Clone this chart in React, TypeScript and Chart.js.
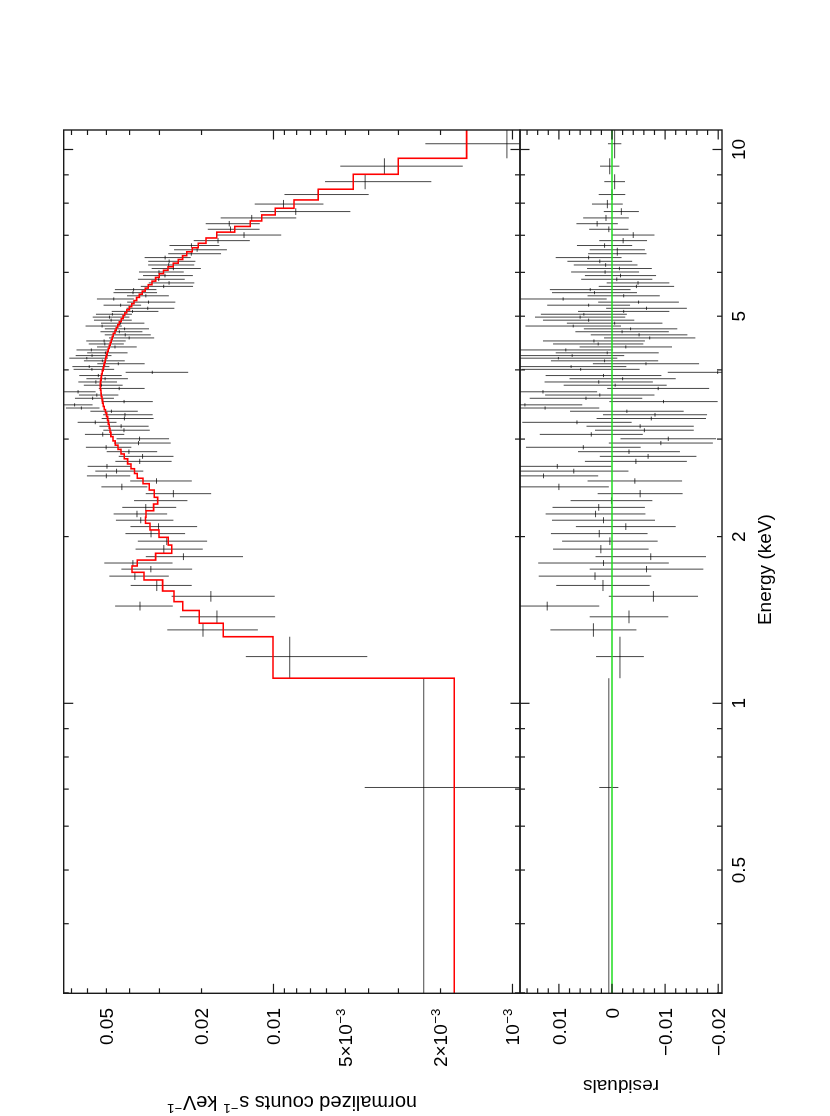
import React, { useEffect, useRef } from 'react';
import { Chart, registerables } from 'chart.js';
Chart.register(...registerables);

// ---------------- data (ascending energy) ----------------
// energy bin edges (keV), 101 bins
const binEdges = [
  0.2995, 1.110, 1.319, 1.395, 1.471, 1.526, 1.595, 1.670, 1.724, 1.770,
  1.814, 1.866, 1.931, 1.994, 2.056, 2.114, 2.168, 2.227, 2.290, 2.355,
  2.427, 2.492, 2.549, 2.600, 2.652, 2.705, 2.764, 2.820, 2.874, 2.925,
  2.977, 3.031, 3.087, 3.138, 3.191, 3.242, 3.294, 3.345, 3.391, 3.436,
  3.482, 3.530, 3.579, 3.627, 3.677, 3.729, 3.777, 3.831, 3.881, 3.933,
  3.986, 4.032, 4.078, 4.129, 4.178, 4.221, 4.269, 4.319, 4.373, 4.428,
  4.483, 4.540, 4.597, 4.658, 4.717, 4.772, 4.828, 4.887, 4.950, 5.013,
  5.069, 5.133, 5.202, 5.267, 5.336, 5.407, 5.479, 5.550, 5.620, 5.700,
  5.785, 5.875, 5.966, 6.053, 6.141, 6.234, 6.330, 6.431, 6.536, 6.646,
  6.771, 6.922, 7.092, 7.262, 7.430, 7.618, 7.833, 8.108, 8.477, 9.021,
  9.641, 10.844,
];

// folded model (normalized counts s^-1 keV^-1) per bin
const modelValues = [
  0.001751, 0.01005, 0.01622, 0.02044, 0.02398, 0.02608, 0.02908, 0.03481, 0.03909, 0.03714,
  0.03111, 0.02666, 0.02755, 0.03013, 0.03286, 0.03432, 0.03415, 0.03172, 0.03051, 0.03153,
  0.03309, 0.03516, 0.03714, 0.03815, 0.03943, 0.04078, 0.0421, 0.04346, 0.04473, 0.04591,
  0.04694, 0.0479, 0.04832, 0.04869, 0.04907, 0.04944, 0.04992, 0.05046, 0.05104, 0.05154,
  0.05188, 0.0522, 0.05255, 0.0527, 0.0529, 0.05306, 0.05285, 0.05264, 0.05245, 0.05204,
  0.0516, 0.05129, 0.05099, 0.0506, 0.05031, 0.04992, 0.04959, 0.04911, 0.04864, 0.04818,
  0.04772, 0.04726, 0.04681, 0.04605, 0.04547, 0.04482, 0.04418, 0.04337, 0.04255, 0.0419,
  0.0411, 0.04008, 0.0392, 0.03834, 0.03739, 0.0364, 0.0354, 0.03438, 0.0334, 0.03224,
  0.03111, 0.03004, 0.02883, 0.02763, 0.02625, 0.02502, 0.024, 0.02307, 0.02186, 0.02064,
  0.01916, 0.01728, 0.01453, 0.01251, 0.0112, 0.009828, 0.008209, 0.006496, 0.004635, 0.003004,
  0.001555,
];

// observed normalized counts per bin
const countValues = [
  0.002351, 0.00855, 0.01972, 0.01724, 0.03618, 0.01828, 0.03078, 0.03801, 0.03259, 0.03874,
  0.02381, 0.02876, 0.02795, 0.03253, 0.03026, 0.03592, 0.03725, 0.03422, 0.03061, 0.02623,
  0.04309, 0.03086, 0.05004, 0.04535, 0.04973, 0.03628, 0.0353, 0.04026, 0.05013, 0.03671,
  0.03634, 0.0518, 0.04222, 0.04339, 0.05567, 0.04204, 0.04182, 0.04766, 0.06364, 0.06794,
  0.04218, 0.0571, 0.05485, 0.0657, 0.0442, 0.05246, 0.05535, 0.05064, 0.05405, 0.03214,
  0.0575, 0.05899, 0.04459, 0.052, 0.06041, 0.05742, 0.05049, 0.05781, 0.04604, 0.05078,
  0.05112, 0.04016, 0.04171, 0.04415, 0.04197, 0.05212, 0.04368, 0.04777, 0.04855, 0.0472,
  0.0389, 0.03358, 0.0436, 0.03334, 0.04659, 0.0342, 0.0387, 0.03848, 0.0288, 0.02734,
  0.03021, 0.02844, 0.03013, 0.02623, 0.02745, 0.02732, 0.0284, 0.02207, 0.02086, 0.02204,
  0.01706, 0.01328, 0.01513, 0.01531, 0.01233, 0.008068, 0.009079, 0.006496, 0.004135, 0.003434,
  0.001055,
];

// 1-sigma errors on counts (same in residual panel)
const countErrors = [
  0.0018, 0.0045, 0.0081, 0.0074, 0.0098, 0.0084, 0.0088, 0.0106, 0.0107, 0.0123,
  0.0104, 0.009, 0.009, 0.0091, 0.0094, 0.0097, 0.0094, 0.0087, 0.0077, 0.008,
  0.0094, 0.0089, 0.0103, 0.0103, 0.0102, 0.0096, 0.0091, 0.0096, 0.0108, 0.0098,
  0.009, 0.0097, 0.0093, 0.0101, 0.0103, 0.0103, 0.0098, 0.0107, 0.0102, 0.0108,
  0.0102, 0.0106, 0.0103, 0.0102, 0.0096, 0.0097, 0.0102, 0.01, 0.0109, 0.0094,
  0.0111, 0.0104, 0.01, 0.0101, 0.0111, 0.0098, 0.0097, 0.0089, 0.0087, 0.0085,
  0.0096, 0.0086, 0.0091, 0.0088, 0.0088, 0.009, 0.009, 0.0086, 0.0085, 0.0081,
  0.0086, 0.0076, 0.0078, 0.0076, 0.0082, 0.0068, 0.008, 0.0076, 0.0071, 0.0059,
  0.0067, 0.0067, 0.0064, 0.0061, 0.006, 0.0061, 0.0062, 0.0055, 0.0052, 0.0052,
  0.0045, 0.004, 0.0037, 0.0039, 0.0043, 0.0033, 0.0029, 0.0025, 0.00195, 0.00182,
  0.00126,
];

// residuals (data - model)
const residualValues = [
  0.0006, -0.0015, 0.0035, -0.0032, 0.0122, -0.0078, 0.0017, 0.0032, -0.0065, 0.0016,
  -0.0073, 0.0021, 0.0004, 0.0024, -0.0026, 0.0016, 0.0031, 0.0025, 0.0001, -0.0053,
  0.01, -0.0043, 0.0129, 0.0072, 0.0103, -0.0045, -0.0068, -0.0032, 0.0054, -0.0092,
  -0.0106, 0.0039, -0.0061, -0.0053, 0.0066, -0.0074, -0.0081, -0.0028, 0.0126, 0.0164,
  -0.0097, 0.0049, 0.0023, 0.013, -0.0087, -0.0006, 0.0025, -0.002, 0.0016, -0.0199,
  0.0059, 0.0077, -0.0064, 0.0014, 0.0101, 0.0075, 0.0009, 0.0087, -0.0026, 0.0026,
  0.0034, -0.0071, -0.0051, -0.0019, -0.0035, 0.0073, -0.0005, 0.0044, 0.006, 0.0053,
  -0.0022, -0.0065, 0.0044, -0.005, 0.0092, -0.0022, 0.0033, 0.0041, -0.0046, -0.0049,
  -0.0009, -0.0016, 0.0013, -0.0014, 0.0012, 0.0023, 0.0044, -0.001, -0.001, 0.0014,
  -0.0021, -0.004, 0.0006, 0.0028, 0.00113, -0.00176, 0.00087, 0, -0.0005, 0.00043,
  -0.0005,
];

// axis ranges
const energyRange = [0.2995, 10.844];
const countRange = [0.00093, 0.07546];
const residualRange = [-0.020716, 0.017326];

// ticks
const energyMajorTicks = [1, 10];
const energyMinorTicks = [0.3, 0.4, 0.5, 0.6, 0.7, 0.8, 0.9, 2, 3, 4, 5, 6, 7, 8, 9];
const energyTickLabels: [number, string][] = [[0.5, '0.5'], [1, '1'], [2, '2'], [5, '5'], [10, '10']];
const countMajorTicks = [0.001, 0.01];
const countMinorTicks = [0.002, 0.003, 0.004, 0.005, 0.006, 0.007, 0.008, 0.009, 0.02, 0.03, 0.04, 0.05, 0.06, 0.07];
const countTickLabels: [number, string, string][] = [
  [0.05, '0.05', ''], [0.02, '0.02', ''], [0.01, '0.01', ''],
  [0.005, '5×10', '−3'], [0.002, '2×10', '−3'], [0.001, '10', '−3'],
];
const residualMajorTicks = [0.01, 0, -0.01, -0.02];
const residualMinorTicks = [0.016, 0.014, 0.012, 0.008, 0.006, 0.004, 0.002, -0.002, -0.004, -0.006, -0.008, -0.012, -0.014, -0.016, -0.018];
const residualTickLabels: [number, string][] = [[0.01, '0.01'], [0, '0'], [-0.01, '−0.01'], [-0.02, '−0.02']];

// ---------------- layout (unrotated landscape frame) ----------------
const W = 1116;
const H = 830;
const PLOT_LEFT = 122.7;
const PLOT_RIGHT = 986;
const COUNTS_TOP = 63.7;
const DIVIDER = 520;
const RESID_BOTTOM = 722;
const FONT = '"Liberation Sans", Arial, Helvetica, sans-serif';
const FS = 19;
const MAJOR_LEN = 9.5;
const MINOR_LEN = 5;

type Part = { t: string; sup?: boolean };

function drawParts(
  ctx: CanvasRenderingContext2D,
  parts: Part[],
  x: number,
  y: number,
  align: 'left' | 'right' | 'center',
  size = FS,
  supRatio = 0.7,
) {
  const supSize = size * supRatio;
  const widths = parts.map((p) => {
    ctx.font = `${p.sup ? supSize : size}px ${FONT}`;
    return ctx.measureText(p.t).width + (p.sup ? size * 0.06 : 0);
  });
  const total = widths.reduce((a, b) => a + b, 0);
  let sx = align === 'right' ? x - total : align === 'center' ? x - total / 2 : x;
  ctx.textAlign = 'left';
  ctx.textBaseline = 'alphabetic';
  parts.forEach((p, i) => {
    ctx.font = `${p.sup ? supSize : size}px ${FONT}`;
    ctx.fillText(p.t, sx + (p.sup ? size * 0.03 : 0), p.sup ? y - size * 0.4 : y);
    sx += widths[i];
  });
}

function framePlugin(kind: 'counts' | 'resid') {
  return {
    id: 'frame_' + kind,
    afterDatasetsDraw(chart: any) {
      const { ctx, chartArea: a, scales } = chart;
      const xs = scales.x;
      const ys = scales.y;
      ctx.save();
      ctx.strokeStyle = '#1a1a1a';
      ctx.fillStyle = '#000';
      ctx.lineWidth = 1.4;
      ctx.strokeRect(a.left, a.top, a.right - a.left, a.bottom - a.top);
      ctx.lineWidth = 1.2;
      const line = (x1: number, y1: number, x2: number, y2: number) => {
        ctx.beginPath();
        ctx.moveTo(x1, y1);
        ctx.lineTo(x2, y2);
        ctx.stroke();
      };
      const eTick = (v: number, len: number) => {
        const p = xs.getPixelForValue(v);
        line(p, a.top, p, a.top + len);
        line(p, a.bottom, p, a.bottom - len);
      };
      energyMajorTicks.forEach((v) => eTick(v, MAJOR_LEN));
      energyMinorTicks.forEach((v) => eTick(v, MINOR_LEN));
      const yTick = (v: number, len: number) => {
        const p = ys.getPixelForValue(v);
        line(a.left, p, a.left + len, p);
        line(a.right, p, a.right - len, p);
      };
      if (kind === 'counts') {
        countMajorTicks.forEach((v) => yTick(v, MAJOR_LEN));
        countMinorTicks.forEach((v) => yTick(v, MINOR_LEN));
        countTickLabels.forEach(([v, base, sup]) => {
          const p = ys.getPixelForValue(v);
          const parts: Part[] = [{ t: base }];
          if (sup) parts.push({ t: sup, sup: true });
          drawParts(ctx, parts, a.left - 14.7, p + FS * 0.358, 'right');
        });
        ctx.save();
        ctx.translate(19.5, (a.top + a.bottom) / 2);
        ctx.rotate(-Math.PI / 2);
        drawParts(ctx, [
          { t: 'normalized counts s' }, { t: '−1', sup: true }, { t: ' keV' }, { t: '−1', sup: true },
        ], 0, 0, 'center', 20, 0.66);
        ctx.restore();
      } else {
        residualMajorTicks.forEach((v) => yTick(v, MAJOR_LEN));
        residualMinorTicks.forEach((v) => yTick(v, MINOR_LEN));
        residualTickLabels.forEach(([v, t]) => {
          const p = ys.getPixelForValue(v);
          drawParts(ctx, [{ t }], a.left - 14.7, p + FS * 0.358, 'right');
        });
        energyTickLabels.forEach(([v, t]) => {
          const p = xs.getPixelForValue(v);
          drawParts(ctx, [{ t }], p, a.bottom + 23.3, 'center');
        });
        drawParts(ctx, [{ t: 'Energy (keV)' }], (a.left + a.right) / 2 - 8, a.bottom + 48.6, 'center');
        ctx.save();
        ctx.translate(36, (a.top + a.bottom) / 2);
        ctx.rotate(-Math.PI / 2);
        drawParts(ctx, [{ t: 'residuals' }], 0, 0, 'center');
        ctx.restore();
      }
      ctx.restore();
    },
  };
}

const DATA_COLOR = 'rgba(0,0,0,0.72)';

export default function App() {
  const countsRef = useRef<HTMLCanvasElement>(null);
  const residRef = useRef<HTMLCanvasElement>(null);

  useEffect(() => {
    const n = countValues.length;
    const centers = binEdges.slice(0, n).map((lo, i) => (lo + binEdges[i + 1]) / 2);

    // model as a step histogram over bin edges (horizontal first, then vertical)
    const modelSteps: any[] = modelValues.map((m, i) => ({ x: binEdges[i], y: m }));
    modelSteps.push({ x: binEdges[n], y: modelValues[n - 1] });

    const countXBars: any[] = [];
    const countYBars: any[] = [];
    const residXBars: any[] = [];
    const residYBars: any[] = [];
    for (let i = 0; i < n; i++) {
      const lo = binEdges[i];
      const hi = binEdges[i + 1];
      const c = countValues[i];
      const e = countErrors[i];
      const r = residualValues[i];
      countXBars.push({ x: lo, y: c }, { x: hi, y: c }, { x: hi, y: null });
      countYBars.push({ x: centers[i], y: Math.max(c - e, 1e-6) }, { x: centers[i], y: c + e }, { x: centers[i], y: null });
      residXBars.push({ x: lo, y: r }, { x: hi, y: r }, { x: hi, y: null });
      residYBars.push({ x: centers[i], y: r - e }, { x: centers[i], y: r + e }, { x: centers[i], y: null });
    }

    const lineDs = (label: string, data: any[], color: string, width: number, extra: any = {}) => ({
      label,
      data,
      borderColor: color,
      backgroundColor: color,
      borderWidth: width,
      pointRadius: 0,
      pointHoverRadius: 0,
      fill: false,
      tension: 0,
      spanGaps: false,
      ...extra,
    });

    const common = (pad: any) => ({
      responsive: false,
      maintainAspectRatio: false,
      animation: false as const,
      events: [] as any[],
      layout: { padding: pad },
      plugins: { legend: { display: false }, tooltip: { enabled: false } },
    });

    const ch1 = new Chart(countsRef.current as HTMLCanvasElement, {
      type: 'line',
      data: {
        datasets: [
          lineDs('model', modelSteps, '#ff0000', 1.6, { stepped: 'before' }),
          lineDs('energy bins', countXBars, DATA_COLOR, 1),
          lineDs('count errors', countYBars, DATA_COLOR, 1),
        ] as any,
      },
      options: {
        ...common({ left: PLOT_LEFT, right: W - PLOT_RIGHT, top: COUNTS_TOP, bottom: H - DIVIDER }),
        scales: {
          x: { type: 'logarithmic', min: energyRange[0], max: energyRange[1], display: false },
          y: { type: 'logarithmic', min: countRange[0], max: countRange[1], display: false },
        },
      } as any,
      plugins: [framePlugin('counts')],
    });

    const ch2 = new Chart(residRef.current as HTMLCanvasElement, {
      type: 'line',
      data: {
        datasets: [
          lineDs('zero', [{ x: energyRange[0], y: 0 }, { x: energyRange[1], y: 0 }], '#1fdc1f', 1.6),
          lineDs('energy bins', residXBars, DATA_COLOR, 1),
          lineDs('residual errors', residYBars, DATA_COLOR, 1),
        ] as any,
      },
      options: {
        ...common({ left: PLOT_LEFT, right: W - PLOT_RIGHT, top: DIVIDER, bottom: H - RESID_BOTTOM }),
        scales: {
          x: { type: 'logarithmic', min: energyRange[0], max: energyRange[1], display: false },
          y: { type: 'linear', min: residualRange[0], max: residualRange[1], display: false },
        },
      } as any,
      plugins: [framePlugin('resid')],
    });

    return () => {
      ch1.destroy();
      ch2.destroy();
    };
  }, []);

  return (
    <div style={{ position: 'absolute', left: 0, top: 0, width: 830, height: 1116, overflow: 'hidden', background: '#fff' }}>
      <div
        style={{
          position: 'absolute',
          left: 0,
          top: 0,
          width: W,
          height: H,
          transformOrigin: '0 0',
          transform: `translate(0px, ${W}px) rotate(-90deg)`,
        }}
      >
        <canvas ref={countsRef} width={W} height={H} style={{ position: 'absolute', left: 0, top: 0, width: W, height: H }} />
        <canvas ref={residRef} width={W} height={H} style={{ position: 'absolute', left: 0, top: 0, width: W, height: H }} />
      </div>
    </div>
  );
}
